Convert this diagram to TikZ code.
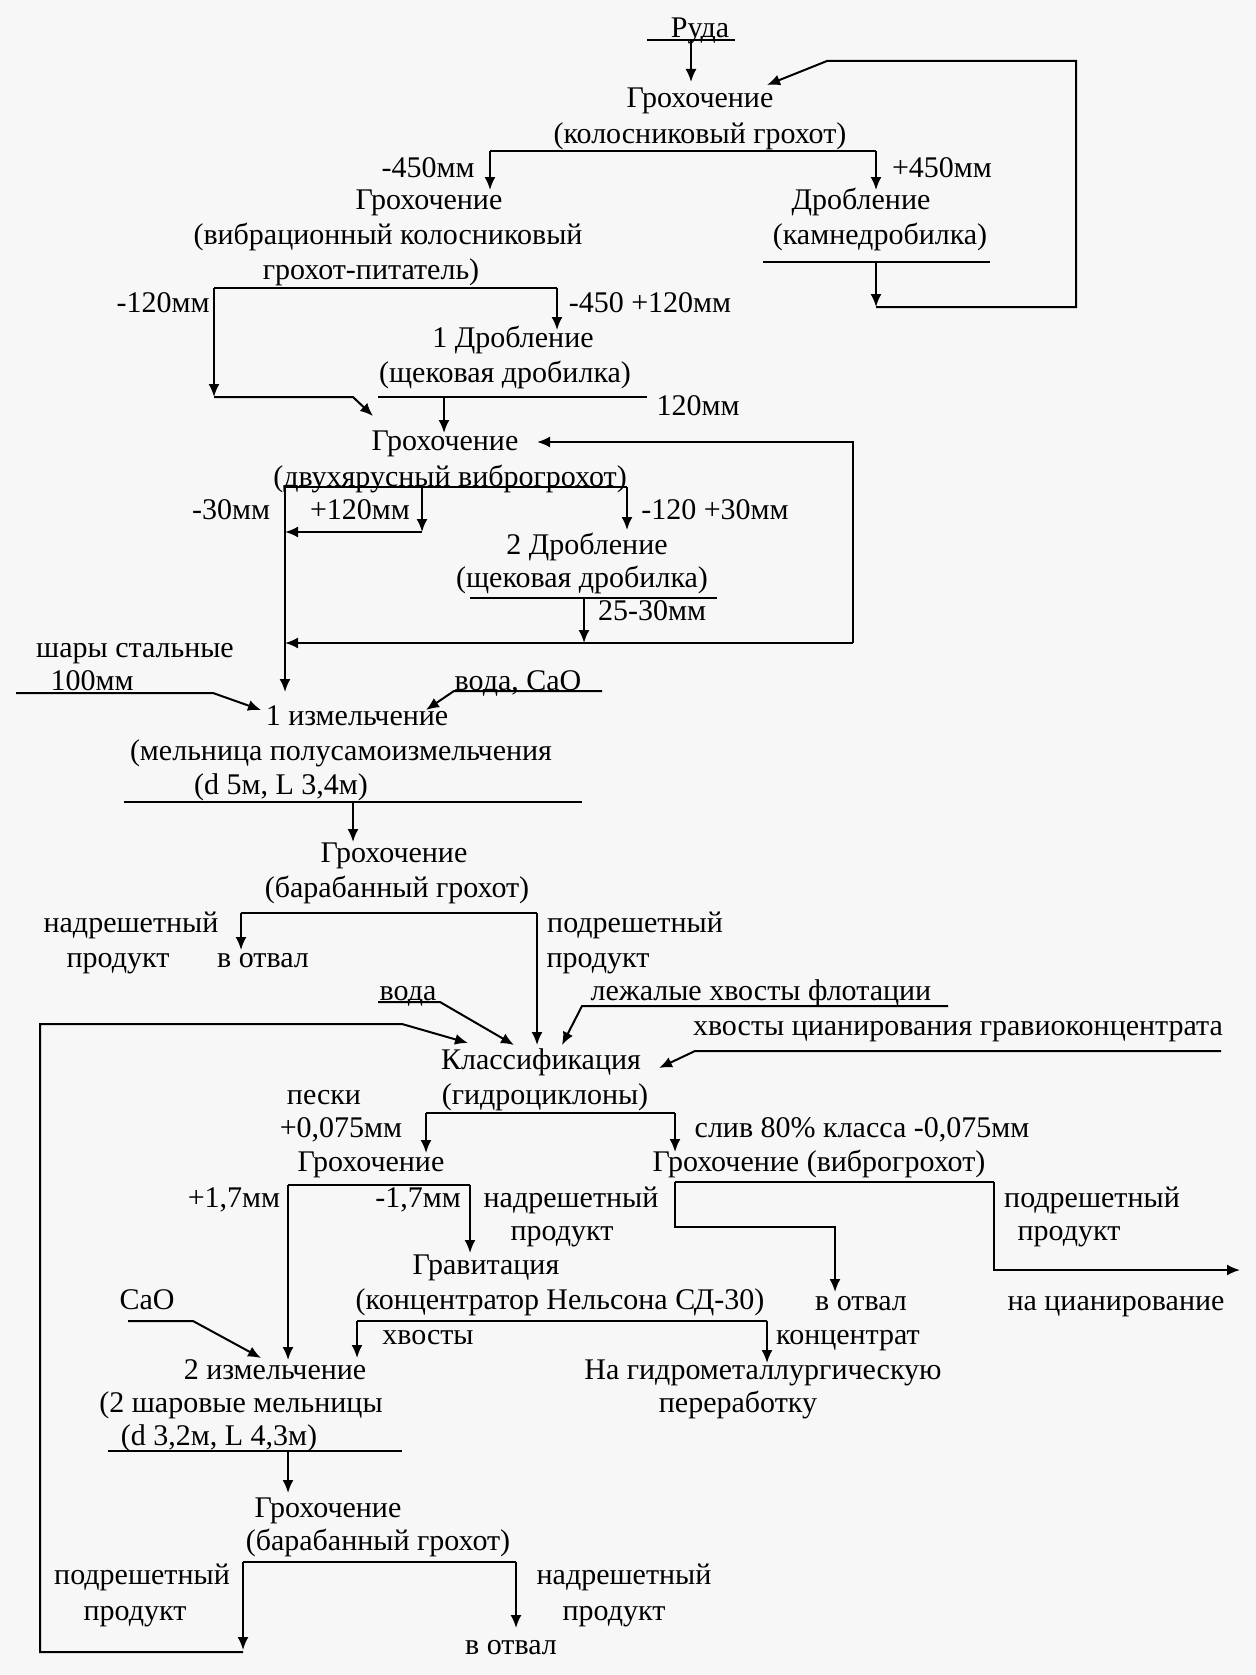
\documentclass[tikz,border=0pt]{standalone}
\usepackage{fontspec}
\setmainfont{Liberation Serif}
\usetikzlibrary{arrows.meta}
\tikzset{>={Latex[length=6.5pt,width=5.5pt]}}
\tikzset{
  txt/.style={anchor=mid, inner sep=0pt, yshift=-1.6pt, font=\fontsize{15}{17.5}\selectfont},
  flow/.style={line width=1pt},
}

\begin{document}
\begin{tikzpicture}[x=0.5pt,y=-0.5pt,flow]
  \fill[black!3] (0,0) rectangle (1256,1675);
  \useasboundingbox (0,0) rectangle (1256,1675);

  % crushing
  \node[txt] (ruda) at (700,30) {Руда};
  \node[txt] (g1a) at (700,100) {Грохочение};
  \node[txt] (g1b) at (700,136) {(колосниковый грохот)};
  \node[txt] (m450) at (428,170) {-450мм};
  \node[txt] (p450) at (942,170) {+450мм};
  \node[txt] (g2a) at (429,202) {Грохочение};
  \node[txt] (g2b) at (388,237) {(вибрационный колосниковый};
  \node[txt] (g2c) at (371,272) {грохот-питатель)};
  \node[txt] (d1a) at (861,202) {Дробление};
  \node[txt] (d1b) at (880,237) {(камнедробилка)};
  \node[txt] (m120) at (163,305) {-120мм};
  \node[txt] (m450p) at (650,305) {-450 +120мм};
  \node[txt] (dr1a) at (513,340) {1 Дробление};
  \node[txt] (dr1b) at (505,375) {(щековая дробилка)};
  \node[txt] (s120) at (698,408) {120мм};
  \node[txt] (g3a) at (445,443) {Грохочение};
  \node[txt] (g3b) at (450,479) {(двухярусный виброгрохот)};
  \node[txt] (m30) at (231,512) {-30мм};
  \node[txt] (p120) at (360,512) {+120мм};
  \node[txt] (m120p) at (715,512) {-120 +30мм};
  \node[txt] (dr2a) at (587,547) {2 Дробление};
  \node[txt] (dr2b) at (582,580) {(щековая дробилка)};
  \node[txt] (s2530) at (652,613) {25-30мм};

  % milling
  \node[txt] (balls) at (135,650) {шары стальные};
  \node[txt] (b100) at (92,683) {100мм};
  \node[txt] (wcao) at (518,683) {вода, CaO};
  \node[txt] (m1a) at (357,718) {1 измельчение};
  \node[txt] (m1b) at (341,753) {(мельница полусамоизмельчения};
  \node[txt] (m1c) at (281,787) {(d 5м, L 3,4м)};
  \node[txt] (g4a) at (394,855) {Грохочение};
  \node[txt] (g4b) at (397,890) {(барабанный грохот)};
  \node[txt] (over1) at (131,925) {надрешетный};
  \node[txt] (over1b) at (118,960) {продукт};
  \node[txt] (dump1) at (263,960) {в отвал};
  \node[txt] (under1) at (635,925) {подрешетный};
  \node[txt] (under1b) at (598,960) {продукт};
  \node[txt] (water) at (408,993) {вода};
  \node[txt] (flot) at (761,993) {лежалые хвосты флотации};
  \node[txt] (cyan) at (958,1028) {хвосты цианирования гравиоконцентрата};
  \node[txt] (kl1) at (541,1062) {Классификация};
  \node[txt] (kl2) at (545,1097) {(гидроциклоны)};
  \node[txt] (sand) at (324,1097) {пески};
  \node[txt] (p075) at (341,1130) {+0,075мм};
  \node[txt] (slime) at (862,1130) {слив 80\% класса -0,075мм};
  \node[txt] (g5) at (371,1164) {Грохочение};
  \node[txt] (g6) at (819,1164) {Грохочение (виброгрохот)};
  \node[txt] (p17) at (234,1200) {+1,7мм};
  \node[txt] (m17) at (418,1200) {-1,7мм};
  \node[txt] (over2) at (571,1200) {надрешетный};
  \node[txt] (over2b) at (562,1233) {продукт};
  \node[txt] (under2) at (1092,1200) {подрешетный};
  \node[txt] (under2b) at (1069,1233) {продукт};
  \node[txt] (grav1) at (486,1267) {Гравитация};
  \node[txt] (grav2) at (560,1302) {(концентратор Нельсона СД-30)};
  \node[txt] (dump2) at (861,1303) {в отвал};
  \node[txt] (tocyan) at (1116,1303) {на цианирование};
  \node[txt] (cao) at (147,1302) {CaO};
  \node[txt] (tails) at (428,1337) {хвосты};
  \node[txt] (conc) at (848,1337) {концентрат};
  \node[txt] (m2a) at (275,1372) {2 измельчение};
  \node[txt] (m2b) at (241,1405) {(2 шаровые мельницы};
  \node[txt] (m2c) at (219,1438) {(d 3,2м, L 4,3м)};
  \node[txt] (hyd1) at (763,1372) {На гидрометаллургическую};
  \node[txt] (hyd2) at (738,1405) {переработку};
  \node[txt] (g7a) at (328,1510) {Грохочение};
  \node[txt] (g7b) at (378,1543) {(барабанный грохот)};
  \node[txt] (under3) at (142,1577) {подрешетный};
  \node[txt] (under3b) at (135,1613) {продукт};
  \node[txt] (over3) at (624,1577) {надрешетный};
  \node[txt] (over3b) at (614,1613) {продукт};
  \node[txt] (dump3) at (511,1647) {в отвал};

  % branch points
  \coordinate (ru1) at (647,40);  \coordinate (ru2) at (735,40);
  \coordinate (ru3) at (691,40);  \coordinate (ru4) at (691,82);
  \coordinate (b1l) at (490,151); \coordinate (b1r) at (876,151);
  \coordinate (b1ld) at (490,190); \coordinate (b1rd) at (876,190);
  \coordinate (u1l) at (763,262); \coordinate (u1r) at (990,262);
  \coordinate (u1m) at (876,262); \coordinate (c1) at (876,307);
  \coordinate (c2) at (1076,307); \coordinate (c3) at (1076,61);
  \coordinate (c4) at (827,61);   \coordinate (c5) at (767,85);
  \coordinate (b2l) at (214,288); \coordinate (b2r) at (557,288);
  \coordinate (b2ld) at (214,397); \coordinate (b2rd) at (557,330);
  \coordinate (c6) at (353,397);  \coordinate (c7) at (373,416);
  \coordinate (u2l) at (378,397); \coordinate (u2r) at (647,397);
  \coordinate (u2m) at (444,397); \coordinate (u2d) at (444,433);
  \coordinate (c8) at (853,643);  \coordinate (c9) at (853,442);
  \coordinate (c10) at (537,442);
  \coordinate (b3l) at (285,487); \coordinate (b3r) at (627,487);
  \coordinate (b3m) at (422,487); \coordinate (c11) at (422,532);
  \coordinate (c12) at (285,532); \coordinate (b3rd) at (627,530);
  \coordinate (u3l) at (470,598); \coordinate (u3r) at (717,598);
  \coordinate (u3m) at (584,598); \coordinate (c13) at (584,643);
  \coordinate (c14) at (285,643); \coordinate (b3ld) at (285,692);
  \coordinate (s1) at (16,693);   \coordinate (s2) at (213,693);
  \coordinate (s3) at (261,710);
  \coordinate (w1) at (602,691);  \coordinate (w2) at (454,691);
  \coordinate (w3) at (426,710);
  \coordinate (u4l) at (124,802); \coordinate (u4r) at (582,802);
  \coordinate (u4m) at (353,802); \coordinate (u4d) at (353,842);
  \coordinate (b4l) at (241,913); \coordinate (b4r) at (537,913);
  \coordinate (b4ld) at (241,950); \coordinate (b4rd) at (537,1045);
  \coordinate (v1) at (378,1002); \coordinate (v2) at (440,1002);
  \coordinate (v3) at (514,1045);
  \coordinate (f1) at (948,1006); \coordinate (f2) at (582,1006);
  \coordinate (f3) at (562,1045);
  \coordinate (h1) at (1221,1051); \coordinate (h2) at (695,1051);
  \coordinate (h3) at (659,1068);
  \coordinate (l1) at (243,1652); \coordinate (l2) at (40,1652);
  \coordinate (l3) at (40,1024);  \coordinate (l4) at (402,1024);
  \coordinate (l5) at (468,1043);
  \coordinate (b5l) at (426,1113); \coordinate (b5r) at (675,1113);
  \coordinate (b5ld) at (426,1153); \coordinate (b5rd) at (675,1152);
  \coordinate (b6l) at (288,1185); \coordinate (b6r) at (470,1185);
  \coordinate (b6ld) at (288,1360); \coordinate (b6rd) at (470,1253);
  \coordinate (b7l) at (675,1182); \coordinate (b7r) at (994,1182);
  \coordinate (c15) at (675,1227); \coordinate (c16) at (835,1227);
  \coordinate (c17) at (835,1292); \coordinate (c18) at (994,1270);
  \coordinate (c19) at (1240,1270);
  \coordinate (b8l) at (357,1321); \coordinate (b8r) at (767,1321);
  \coordinate (b8ld) at (357,1358); \coordinate (b8rd) at (767,1363);
  \coordinate (k1) at (128,1321); \coordinate (k2) at (193,1321);
  \coordinate (k3) at (261,1358);
  \coordinate (u5l) at (108,1451); \coordinate (u5r) at (402,1451);
  \coordinate (u5m) at (288,1451); \coordinate (u5d) at (288,1493);
  \coordinate (b9l) at (243,1562); \coordinate (b9r) at (516,1562);
  \coordinate (b9ld) at (243,1650); \coordinate (b9rd) at (516,1628);

  % crushing flows
  \draw (ru1) -- (ru2);
  \draw[->] (ru3) -- (ru4);
  \draw (b1l) -- (b1r);
  \draw[->] (b1l) -- (b1ld);
  \draw[->] (b1r) -- (b1rd);
  \draw (u1l) -- (u1r);
  \draw[->] (u1m) -- (c1);
  \draw[->] (c1) -- (c2) -- (c3) -- (c4) -- (c5);
  \draw (b2l) -- (b2r);
  \draw[->] (b2l) -- (b2ld);
  \draw[->] (b2ld) -- (c6) -- (c7);
  \draw[->] (b2r) -- (b2rd);
  \draw (u2l) -- (u2r);
  \draw[->] (u2m) -- (u2d);
  \draw[->] (c8) -- (c9) -- (c10);
  \draw (b3l) -- (b3r);
  \draw[->] (b3m) -- (c11);
  \draw[->] (c11) -- (c12);
  \draw[->] (b3r) -- (b3rd);
  \draw (u3l) -- (u3r);
  \draw[->] (u3m) -- (c13);
  \draw[->] (c8) -- (c14);
  \draw[->] (b3l) -- (b3ld);

  % milling flows
  \draw[->] (s1) -- (s2) -- (s3);
  \draw[->] (w1) -- (w2) -- (w3);
  \draw (u4l) -- (u4r);
  \draw[->] (u4m) -- (u4d);
  \draw (b4l) -- (b4r);
  \draw[->] (b4l) -- (b4ld);
  \draw[->] (b4r) -- (b4rd);
  \draw[->] (v1) -- (v2) -- (v3);
  \draw[->] (f1) -- (f2) -- (f3);
  \draw[->] (h1) -- (h2) -- (h3);
  \draw[->] (l1) -- (l2) -- (l3) -- (l4) -- (l5);
  \draw (b5l) -- (b5r);
  \draw[->] (b5l) -- (b5ld);
  \draw[->] (b5r) -- (b5rd);
  \draw (b6l) -- (b6r);
  \draw[->] (b6l) -- (b6ld);
  \draw[->] (b6r) -- (b6rd);
  \draw (b7l) -- (b7r);
  \draw[->] (b7l) -- (c15) -- (c16) -- (c17);
  \draw[->] (b7r) -- (c18) -- (c19);
  \draw (b8l) -- (b8r);
  \draw[->] (b8l) -- (b8ld);
  \draw[->] (b8r) -- (b8rd);
  \draw[->] (k1) -- (k2) -- (k3);
  \draw (u5l) -- (u5r);
  \draw[->] (u5m) -- (u5d);
  \draw (b9l) -- (b9r);
  \draw[->] (b9l) -- (b9ld);
  \draw[->] (b9r) -- (b9rd);
\end{tikzpicture}
\end{document}
